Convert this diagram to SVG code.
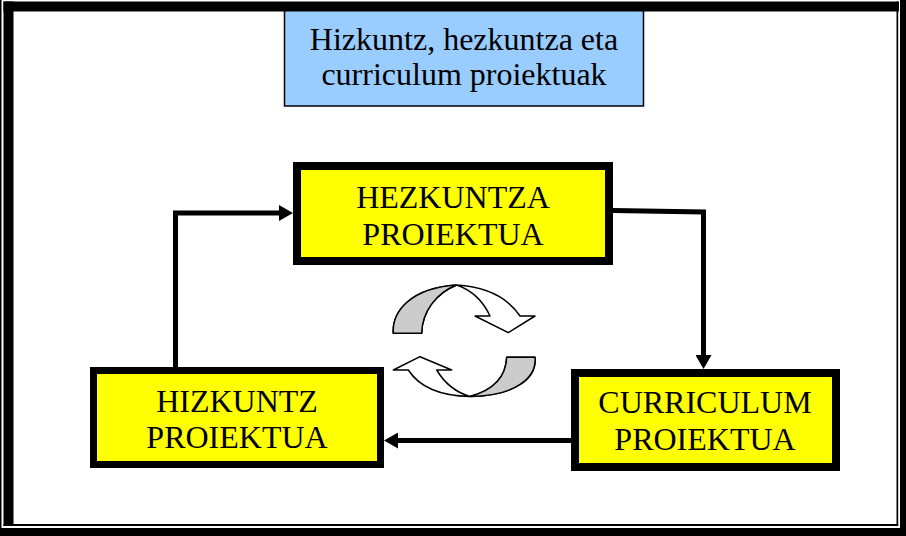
<svg xmlns="http://www.w3.org/2000/svg" width="906" height="536" viewBox="0 0 906 536">
<defs>
<style>
.box{fill:#FFFF00;stroke:#000;}
.lbl{font-family:"Liberation Serif","Times New Roman",serif;font-size:32px;fill:#000;text-anchor:middle;}
.conn{fill:none;stroke:#000;stroke-width:5;}
.ca{stroke:#000;stroke-width:1.5;stroke-linejoin:round;}
</style>
<marker id="arr" markerUnits="userSpaceOnUse" markerWidth="14" markerHeight="16" refX="4" refY="8" orient="auto">
<path d="M0,0 L14,8 L0,16 z" fill="#000"/>
</marker>
</defs>
<rect x="0" y="0" width="906" height="536" fill="#fff"/>
<g id="title">
<rect x="284.5" y="5" width="359" height="101" fill="#99CCFF" stroke="#000" stroke-width="1.5"/>
<text class="lbl" x="464" y="50">Hizkuntz, hezkuntza eta</text>
<text class="lbl" x="464" y="85">curriculum proiektuak</text>
</g>
<g id="frame" fill="#000">
<rect x="0" y="0" width="1.5" height="536"/>
<rect x="3.5" y="1.5" width="895.5" height="10"/>
<rect x="3.5" y="1.5" width="10" height="524.5"/>
<rect x="896.5" y="1.5" width="1.7" height="524.5"/>
<rect x="3.5" y="524" width="894.7" height="2"/>
<rect x="900" y="0" width="6" height="536"/>
<rect x="0" y="528" width="906" height="8"/>
</g>
<g id="connectors">
<path class="conn" d="M175.5,367 V213 H283" marker-end="url(#arr)"/>
<path class="conn" d="M613,210.5 L703.5,212 V359" marker-end="url(#arr)"/>
<path class="conn" d="M571,440.5 H394" marker-end="url(#arr)"/>
</g>
<g id="hezkuntza">
<rect class="box" x="297" y="166" width="312" height="95" stroke-width="8"/>
<text class="lbl" x="453" y="208">HEZKUNTZA</text>
<text class="lbl" x="453" y="245">PROIEKTUA</text>
</g>
<g id="hizkuntz">
<rect class="box" x="93.5" y="370.5" width="287" height="94" stroke-width="7"/>
<text class="lbl" x="237" y="412">HIZKUNTZ</text>
<text class="lbl" x="237" y="448">PROIEKTUA</text>
</g>
<g id="curriculum">
<rect class="box" x="575" y="373" width="261" height="94" stroke-width="8"/>
<text class="lbl" x="705" y="413">CURRICULUM</text>
<text class="lbl" x="705" y="450">PROIEKTUA</text>
</g>
<g id="cycle">
<path class="ca" fill="#fff" d="M393.3,333.3 C392,312 410,288 456.7,285 C488,287 508,298 520,316 L535,316 L508.3,332.7 L475,316 L490,316 C484,303 474,291 456.7,285 C436,293 422,312 421.7,333.3 Z"/>
<path class="ca" fill="#CCCCCC" d="M393.3,333.3 C392,312 410,288 456.7,285 C436,293 422,312 421.7,333.3 Z"/>
<path class="ca" fill="#fff" d="M535,357.3 C537,378 515,396 470,396.5 C442,396 420,388 408.3,370 L393.3,370 L420,356.7 L451.7,370 L436.7,370 C445,384 455,392 470,396.5 C494,390 506,376 506.7,357.3 Z"/>
<path class="ca" fill="#CCCCCC" d="M535,357.3 C537,378 515,396 470,396.5 C494,390 506,376 506.7,357.3 Z"/>
</g>
</svg>
